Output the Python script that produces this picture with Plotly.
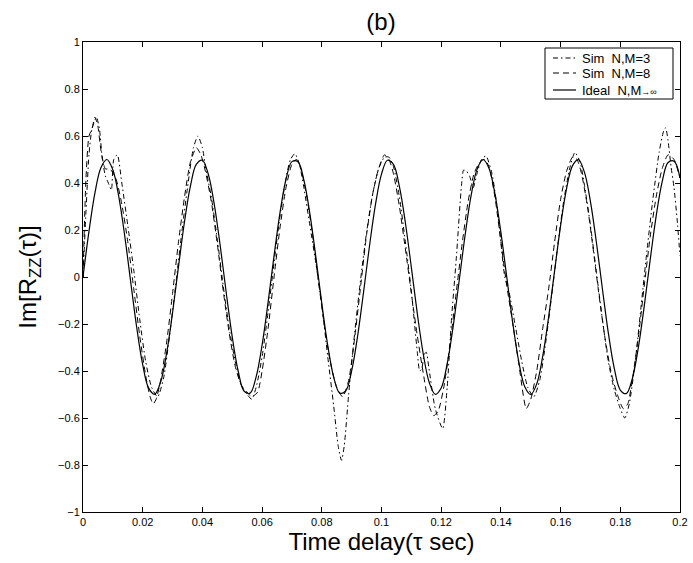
import plotly.graph_objects as go

# ---------------- data ----------------
tau_ideal = [i * 0.002 for i in range(101)]
ideal = [0.000, 0.194, 0.358, 0.465, 0.500, 0.456, 0.341, 0.173, -0.023, -0.215,
         -0.373, -0.473, -0.499, -0.447, -0.325, -0.152, 0.045, 0.235, 0.388, 0.480,
         0.497, 0.436, 0.307, 0.130, -0.068, -0.255, -0.401, -0.486, -0.494, -0.425,
         -0.289, -0.108, 0.090, 0.274, 0.415, 0.491, 0.490, 0.412, 0.270, 0.086,
         -0.112, -0.292, -0.427, -0.494, -0.485, -0.399, -0.251, -0.063, 0.134, 0.310,
         0.438, 0.497, 0.479, 0.385, 0.231, 0.041, -0.156, -0.328, -0.449, -0.499,
         -0.472, -0.370, -0.211, -0.018, 0.177, 0.345, 0.458, 0.500, 0.463, 0.354,
         0.190, -0.004, -0.198, -0.361, -0.467, -0.500, -0.455, -0.338, -0.169, 0.027,
         0.219, 0.376, 0.474, 0.499, 0.445, 0.321, 0.147, -0.050, -0.239, -0.390,
         -0.481, -0.496, -0.434, -0.304, -0.126, 0.072, 0.258, 0.404, 0.487, 0.493,
         0.422]

tau_sim3 = [0.000, 0.001, 0.002, 0.003, 0.0045, 0.0055, 0.0065, 0.0075, 0.0085, 0.0095,
            0.0103, 0.0115, 0.013, 0.015, 0.017, 0.019, 0.021, 0.023, 0.025, 0.027,
            0.029, 0.031, 0.033, 0.035, 0.037, 0.0385, 0.040, 0.041, 0.043, 0.045,
            0.047, 0.049, 0.051, 0.053, 0.055, 0.0565, 0.058, 0.060, 0.062, 0.064,
            0.066, 0.068, 0.0695, 0.071, 0.0725, 0.074, 0.076, 0.078, 0.080, 0.082,
            0.084, 0.0855, 0.0866, 0.0875, 0.089, 0.091, 0.093, 0.095, 0.097, 0.099,
            0.101, 0.1025, 0.104, 0.106, 0.108, 0.110, 0.112, 0.1128, 0.1135, 0.1143,
            0.1150, 0.1158, 0.118, 0.1205, 0.122, 0.1235, 0.125, 0.1268, 0.1275, 0.1285,
            0.1295, 0.1307, 0.132, 0.1335, 0.135, 0.137, 0.139, 0.1413, 0.1425, 0.145,
            0.147, 0.149, 0.151, 0.153, 0.155, 0.157, 0.159, 0.161, 0.163, 0.1648,
            0.1665, 0.168, 0.170, 0.172, 0.174, 0.176, 0.178, 0.180, 0.1815, 0.183,
            0.185, 0.187, 0.189, 0.191, 0.193, 0.1945, 0.1952, 0.196, 0.197, 0.198,
            0.199, 0.200]
sim3 = [0.00, 0.28, 0.52, 0.63, 0.68, 0.63, 0.50, 0.43, 0.40, 0.37,
        0.50, 0.52, 0.40, 0.22, 0.03, -0.18, -0.36, -0.47, -0.51, -0.43,
        -0.25, -0.04, 0.18, 0.38, 0.55, 0.60, 0.55, 0.47, 0.34, 0.16,
        -0.04, -0.22, -0.36, -0.46, -0.50, -0.52, -0.47, -0.34, -0.15, 0.06,
        0.26, 0.42, 0.50, 0.525, 0.48, 0.38, 0.22, 0.06, -0.12, -0.34,
        -0.55, -0.72, -0.78, -0.72, -0.50, -0.24, -0.01, 0.19, 0.35, 0.46,
        0.51, 0.51, 0.47, 0.34, 0.15, -0.06, -0.32, -0.40, -0.39, -0.33,
        -0.32, -0.38, -0.56, -0.645, -0.47, -0.17, 0.07, 0.39, 0.455, 0.45,
        0.43, 0.38, 0.44, 0.50, 0.515, 0.44, 0.27, 0.00, -0.05, -0.22,
        -0.36, -0.47, -0.51, -0.44, -0.28, -0.08, 0.13, 0.32, 0.46, 0.53,
        0.49, 0.39, 0.22, 0.02, -0.18, -0.36, -0.48, -0.56, -0.60, -0.54,
        -0.36, -0.12, 0.12, 0.34, 0.53, 0.62, 0.635, 0.58, 0.47, 0.38,
        0.25, 0.09]

tau_sim8 = [0.000, 0.001, 0.002, 0.003, 0.004, 0.005, 0.006, 0.0075, 0.009, 0.011,
            0.013, 0.015, 0.017, 0.019, 0.021, 0.0225, 0.0235, 0.0245, 0.026, 0.028,
            0.030, 0.032, 0.034, 0.036, 0.038, 0.0395, 0.041, 0.043, 0.045, 0.047,
            0.049, 0.051, 0.053, 0.055, 0.0565, 0.0585, 0.060, 0.062, 0.064, 0.066,
            0.068, 0.070, 0.0715, 0.073, 0.075, 0.077, 0.079, 0.081, 0.083, 0.085,
            0.087, 0.089, 0.091, 0.093, 0.095, 0.097, 0.099, 0.101, 0.1025, 0.104,
            0.106, 0.108, 0.110, 0.112, 0.114, 0.116, 0.1175, 0.119, 0.121, 0.123,
            0.125, 0.127, 0.129, 0.131, 0.133, 0.1345, 0.136, 0.138, 0.140, 0.142,
            0.144, 0.146, 0.1485, 0.150, 0.152, 0.154, 0.156, 0.158, 0.160, 0.162,
            0.164, 0.1655, 0.167, 0.169, 0.171, 0.173, 0.175, 0.177, 0.179, 0.181,
            0.1825, 0.184, 0.186, 0.188, 0.190, 0.192, 0.194, 0.196, 0.198, 0.200]
sim8 = [0.00, 0.42, 0.60, 0.63, 0.68, 0.64, 0.54, 0.46, 0.46, 0.42,
        0.31, 0.15, -0.05, -0.25, -0.42, -0.51, -0.54, -0.52, -0.44, -0.28,
        -0.07, 0.15, 0.34, 0.49, 0.55, 0.52, 0.45, 0.32, 0.14, -0.06,
        -0.24, -0.38, -0.46, -0.49, -0.51, -0.49, -0.40, -0.22, 0.00, 0.21,
        0.38, 0.48, 0.50, 0.46, 0.34, 0.17, -0.03, -0.22, -0.37, -0.47,
        -0.51, -0.44, -0.26, -0.04, 0.18, 0.35, 0.46, 0.52, 0.50, 0.44,
        0.30, 0.12, -0.07, -0.25, -0.41, -0.55, -0.59, -0.57, -0.46, -0.28,
        -0.07, 0.14, 0.32, 0.44, 0.49, 0.50, 0.47, 0.34, 0.15, -0.04,
        -0.20, -0.37, -0.56, -0.52, -0.40, -0.22, -0.05, 0.15, 0.33, 0.45,
        0.51, 0.50, 0.44, 0.30, 0.11, -0.09, -0.27, -0.41, -0.50, -0.56,
        -0.54, -0.44, -0.26, -0.04, 0.17, 0.34, 0.46, 0.52, 0.50, 0.42]

x_tickvals = [0, 0.02, 0.04, 0.06, 0.08, 0.1, 0.12, 0.14, 0.16, 0.18, 0.2]
x_ticktext = ["0", "0.02", "0.04", "0.06", "0.08", "0.1", "0.12", "0.14", "0.16", "0.18", "0.2"]
y_tickvals = [-1, -0.8, -0.6, -0.4, -0.2, 0, 0.2, 0.4, 0.6, 0.8, 1]
y_ticktext = ["\u22121", "\u22120.8", "\u22120.6", "\u22120.4", "\u22120.2", "0",
              "0.2", "0.4", "0.6", "0.8", "1"]

series_names = ["Sim\u00a0\u00a0N,M=3", "Sim\u00a0\u00a0N,M=8",
                "Ideal\u00a0\u00a0N,M<span style='font-size:9px'>\u2192\u221e</span>"]

# ---------------- styles ----------------
FONT = "Liberation Sans, Arial, Helvetica, sans-serif"
DASHES = ["5px,3px,1.5px,3px", "6px,4px", "solid"]
WIDTHS = [1, 1, 1.2]

fig = go.Figure()
fig.add_trace(go.Scatter(x=tau_sim3, y=sim3, mode="lines", name=series_names[0],
                         showlegend=False,
                         line=dict(color="black", width=WIDTHS[0], dash=DASHES[0],
                                   shape="spline", smoothing=0.6)))
fig.add_trace(go.Scatter(x=tau_sim8, y=sim8, mode="lines", name=series_names[1],
                         showlegend=False,
                         line=dict(color="black", width=WIDTHS[1], dash=DASHES[1],
                                   shape="spline", smoothing=0.6)))
fig.add_trace(go.Scatter(x=tau_ideal, y=ideal, mode="lines", name=series_names[2],
                         showlegend=False,
                         line=dict(color="black", width=WIDTHS[2], shape="spline", smoothing=1)))

# ---------------- legend box (MATLAB style) ----------------
L, T, PW, PH = 83, 42, 597, 470          # plot area in pixels


def px_x(p):
    return (p - L) / PW


def px_y(p):
    return (T + PH - p) / PH


shapes = [dict(type="rect", xref="paper", yref="paper",
               x0=px_x(545), x1=px_x(673), y0=px_y(99), y1=px_y(48),
               line=dict(color="black", width=1), fillcolor="white", layer="above")]
annotations = []
row_y = [58, 73, 90]
for i in range(3):
    shapes.append(dict(type="line", xref="paper", yref="paper",
                       x0=px_x(553), x1=px_x(576), y0=px_y(row_y[i]), y1=px_y(row_y[i]),
                       line=dict(color="black", width=WIDTHS[i], dash=DASHES[i]),
                       layer="above"))
    annotations.append(dict(xref="paper", yref="paper", x=px_x(580), y=px_y(row_y[i]),
                            xanchor="left", yanchor="middle", showarrow=False,
                            text=series_names[i],
                            font=dict(family=FONT, size=13, color="black")))

axis_common = dict(showgrid=False, zeroline=False, showline=True, linecolor="black",
                   linewidth=1, mirror="allticks", ticks="inside", ticklen=5,
                   tickcolor="black", tickwidth=1,
                   tickfont=dict(family=FONT, size=11, color="black"))

fig.update_layout(
    width=693, height=563,
    margin=dict(l=L, r=693 - L - PW, t=T, b=563 - T - PH, autoexpand=False),
    paper_bgcolor="white", plot_bgcolor="white",
    font=dict(family=FONT, color="black"),
    title=dict(text="(b)", x=px_x(381) * PW / 693 + L / 693, xanchor="center",
               y=1 - 22 / 563, yanchor="middle",
               font=dict(family=FONT, size=24, color="black")),
    xaxis=dict(range=[0, 0.2], tickvals=x_tickvals, ticktext=x_ticktext,
               title=dict(text="Time delay(\u03c4 sec)", standoff=4,
                          font=dict(family=FONT, size=24, color="black")),
               **axis_common),
    yaxis=dict(range=[-1, 1], tickvals=y_tickvals, ticktext=y_ticktext,
               title=dict(text="Im[R<sub>ZZ</sub>(\u03c4)]", standoff=14,
                          font=dict(family=FONT, size=24, color="black")),
               **axis_common),
    shapes=shapes,
    annotations=annotations,
    showlegend=False,
)

fig.write_html("out.html")
